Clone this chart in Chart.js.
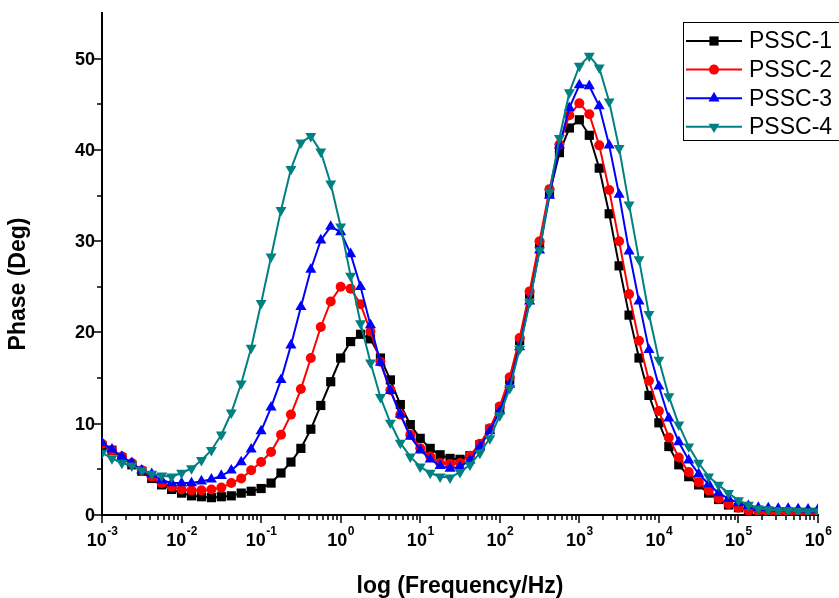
<!DOCTYPE html>
<html>
<head>
<meta charset="utf-8">
<script src="https://cdn.jsdelivr.net/npm/chart.js@4.4.1/dist/chart.umd.min.js"></script>
<style>
  html, body { margin: 0; padding: 0; background: #fff; }
  #wrap { width: 839px; height: 598px; }
</style>
</head>
<body>
<div id="wrap"><canvas id="phaseChart" width="839" height="598"></canvas></div>
<script>
// Frequency grid (Hz), 8 points per decade
const frequencies = [
  1e-3, 1.334e-3, 1.778e-3, 2.371e-3, 3.162e-3, 4.217e-3, 5.623e-3, 7.499e-3,
  1e-2, 1.334e-2, 1.778e-2, 2.371e-2, 3.162e-2, 4.217e-2, 5.623e-2, 7.499e-2,
  1e-1, 1.334e-1, 1.778e-1, 2.371e-1, 3.162e-1, 4.217e-1, 5.623e-1, 7.499e-1,
  1e0, 1.334e0, 1.778e0, 2.371e0, 3.162e0, 4.217e0, 5.623e0, 7.499e0,
  1e1, 1.334e1, 1.778e1, 2.371e1, 3.162e1, 4.217e1, 5.623e1, 7.499e1,
  1e2, 1.334e2, 1.778e2, 2.371e2, 3.162e2, 4.217e2, 5.623e2, 7.499e2,
  1e3, 1.334e3, 1.778e3, 2.371e3, 3.162e3, 4.217e3, 5.623e3, 7.499e3,
  1e4, 1.334e4, 1.778e4, 2.371e4, 3.162e4, 4.217e4, 5.623e4, 7.499e4,
  1e5, 1.334e5, 1.778e5, 2.371e5, 3.162e5, 4.217e5, 5.623e5, 7.499e5,
  1e6
];

// Phase angle (deg) for each sample
const pssc1 = [
  7.6, 7.1, 6.3, 5.5, 4.8, 4.0, 3.3, 2.8,
  2.4, 2.1, 2.0, 1.9, 2.0, 2.1, 2.4, 2.6,
  2.9, 3.5, 4.6, 5.8, 7.3, 9.4, 12.0, 14.6,
  17.2, 19.0, 19.8, 19.3, 17.2, 14.8, 12.1, 9.9,
  8.4, 7.3, 6.6, 6.2, 6.1, 6.5, 7.7, 9.4,
  11.7, 14.8, 19.1, 24.2, 29.7, 35.2, 39.7, 42.4,
  43.3, 41.6, 38.0, 33.0, 27.3, 21.9, 17.2, 13.1,
  10.1, 7.5, 5.5, 4.2, 3.3, 2.4, 1.7, 1.1,
  0.8, 0.6, 0.5, 0.4, 0.35, 0.3, 0.3, 0.3,
  0.3
];
const pssc2 = [
  7.8, 7.1, 6.4, 5.7, 4.9, 4.2, 3.5, 3.1,
  2.8, 2.7, 2.7, 2.8, 3.0, 3.5, 4.0, 4.9,
  5.8, 6.9, 8.8, 11.0, 13.8, 17.2, 20.6, 23.4,
  25.0, 24.8, 23.1, 20.1, 16.8, 13.7, 11.0, 8.8,
  7.3, 6.4, 5.7, 5.6, 5.7, 6.5, 7.8, 9.5,
  11.9, 15.1, 19.4, 24.5, 30.0, 35.7, 40.6, 43.8,
  45.1, 43.9, 40.5, 35.6, 30.0, 24.2, 19.1, 14.7,
  11.4, 8.5, 6.3, 4.7, 3.6, 2.7, 1.8, 1.2,
  0.8, 0.5, 0.4, 0.3, 0.3, 0.3, 0.3, 0.3,
  0.3
];
const pssc3 = [
  7.9, 7.2, 6.4, 5.7, 4.9, 4.5, 3.8, 3.5,
  3.5, 3.5, 3.7, 3.9, 4.3, 4.9, 5.8, 7.2,
  9.2, 11.8, 14.8, 18.6, 22.8, 26.9, 30.1, 31.6,
  31.0, 28.6, 25.0, 20.8, 16.7, 13.6, 11.0, 8.6,
  7.1, 6.1, 5.4, 5.1, 5.3, 6.0, 7.5, 9.2,
  11.4, 14.3, 18.4, 23.4, 29.0, 35.0, 40.5, 44.6,
  47.1, 47.0, 44.8, 40.5, 35.1, 28.9, 23.4, 18.1,
  14.1, 10.6, 8.0, 6.0, 4.5, 3.4, 2.4, 1.8,
  1.3, 1.0, 0.8, 0.75, 0.7, 0.7, 0.65, 0.6,
  0.6
];
const pssc4 = [
  6.8, 6.2, 5.7, 5.4, 4.9, 4.5, 4.3, 4.2,
  4.6, 5.1, 6.0, 7.1, 8.8, 11.2, 14.4, 18.3,
  23.2, 28.3, 33.4, 37.9, 40.8, 41.5, 39.8, 36.3,
  31.6, 26.2, 21.0, 16.7, 12.9, 10.1, 7.9, 6.4,
  5.3, 4.6, 4.2, 4.1, 4.7, 5.5, 6.8, 8.4,
  10.9, 13.9, 18.2, 23.3, 29.0, 35.4, 41.3, 46.3,
  49.2, 50.3, 49.0, 45.3, 40.2, 34.0, 28.0, 22.0,
  17.0, 13.0, 9.9, 7.5, 5.7, 4.2, 3.3, 2.4,
  1.6, 1.1, 0.7, 0.6, 0.5, 0.5, 0.45, 0.4,
  0.4
];

const seriesNames = ['PSSC-1', 'PSSC-2', 'PSSC-3', 'PSSC-4'];
const xTickExponents = [-3, -2, -1, 0, 1, 2, 3, 4, 5, 6];
const yTickValues = [0, 10, 20, 30, 40, 50];

const FONT = '"Liberation Sans", Arial, Helvetica, sans-serif';

function toPoints(values) {
  return frequencies.map((f, i) => ({ x: f, y: values[i] }));
}

function makeSet(label, values, color, style, radius, rotation, order) {
  return {
    label,
    data: toPoints(values),
    borderColor: color,
    backgroundColor: color,
    pointBackgroundColor: color,
    pointBorderColor: color,
    pointBorderWidth: 0,
    borderWidth: 2,
    pointStyle: style,
    pointRadius: radius,
    pointRotation: rotation,
    tension: 0,
    order
  };
}

const datasets = [
  makeSet(seriesNames[0], pssc1, '#000000', 'rect', 6.5, 0, 4),
  makeSet(seriesNames[1], pssc2, '#ff0000', 'circle', 5, 0, 3),
  makeSet(seriesNames[2], pssc3, '#0000ff', 'triangle', 6.4, 0, 2),
  makeSet(seriesNames[3], pssc4, '#008080', 'triangle', 6.3, 180, 1)
];

// Ticks, tick labels, axis titles and the boxed legend
const axisDecor = {
  id: 'axisDecor',
  afterDraw(chart) {
    const { ctx, chartArea: a, scales: { x, y } } = chart;
    ctx.save();
    ctx.strokeStyle = '#000';
    ctx.fillStyle = '#000';
    ctx.lineWidth = 1.5;

    // x ticks: decades plus 2..9 minors
    ctx.beginPath();
    const lastExp = xTickExponents[xTickExponents.length - 1];
    xTickExponents.forEach(e => {
      for (let m = 1; m <= 9; m++) {
        if (e === lastExp && m > 1) break;
        const px = Math.round(x.getPixelForValue(m * Math.pow(10, e)));
        const len = m === 1 ? 8 : 5;
        ctx.moveTo(px, a.bottom);
        ctx.lineTo(px, a.bottom + len);
      }
    });
    // y ticks: every 10 major, every 5 minor
    for (let v = 0; v <= 50; v += 5) {
      const py = Math.round(y.getPixelForValue(v));
      const len = v % 10 === 0 ? 8 : 5;
      ctx.moveTo(a.left, py);
      ctx.lineTo(a.left - len, py);
    }
    ctx.stroke();

    // y tick labels
    ctx.font = 'bold 18px ' + FONT;
    ctx.textAlign = 'right';
    ctx.textBaseline = 'middle';
    yTickValues.forEach(v => {
      ctx.fillText(String(v), a.left - 7, y.getPixelForValue(v) + 1);
    });

    // x tick labels with superscript exponents
    ctx.textAlign = 'left';
    xTickExponents.forEach(e => {
      const px = x.getPixelForValue(Math.pow(10, e));
      ctx.font = 'bold 18px ' + FONT;
      const wBase = ctx.measureText('10').width;
      ctx.font = 'bold 12px ' + FONT;
      const expText = String(e);
      const wExp = ctx.measureText(expText).width;
      const left = px - (wBase + wExp) / 2;
      ctx.font = 'bold 18px ' + FONT;
      ctx.fillText('10', left, 541);
      ctx.font = 'bold 12px ' + FONT;
      ctx.fillText(expText, left + wBase + 0.5, 532);
    });

    // axis titles
    ctx.font = 'bold 23px ' + FONT;
    ctx.textAlign = 'center';
    ctx.fillText('log (Frequency/Hz)', (a.left + a.right) / 2, 587);
    ctx.save();
    ctx.translate(19, 284);
    ctx.rotate(-Math.PI / 2);
    ctx.fillText('Phase (Deg)', 0, 0);
    ctx.restore();

    // legend box
    ctx.lineWidth = 1;
    ctx.strokeRect(683.5, 22.5, 200, 118);
    ctx.font = '23px ' + FONT;
    ctx.textAlign = 'left';
    datasets.forEach((ds, i) => {
      const ly = 41 + i * 28.6;
      ctx.strokeStyle = ds.borderColor;
      ctx.lineWidth = 2;
      ctx.beginPath();
      ctx.moveTo(686, ly);
      ctx.lineTo(742, ly);
      ctx.stroke();
      ctx.fillStyle = ds.backgroundColor;
      Chart.helpers.drawPoint(ctx, {
        pointStyle: ds.pointStyle,
        radius: ds.pointRadius,
        rotation: ds.pointRotation,
        borderWidth: 0
      }, 714, ly);
      ctx.fillStyle = '#000';
      ctx.fillText(ds.label, 749, ly + 1);
    });
    ctx.restore();
  }
};

const chart = new Chart(document.getElementById('phaseChart'), {
  type: 'line',
  data: { datasets },
  options: {
    responsive: false,
    animation: false,
    devicePixelRatio: 1,
    layout: { padding: { left: 102, top: 13, right: 21, bottom: 83 } },
    plugins: {
      legend: { display: false },
      tooltip: { enabled: false }
    },
    scales: {
      x: {
        type: 'logarithmic',
        min: 1e-3,
        max: 1e6,
        grid: { display: false, drawTicks: false },
        ticks: { display: false },
        border: { display: true, color: '#000', width: 2 }
      },
      y: {
        type: 'linear',
        min: 0,
        max: 55,
        grid: { display: false, drawTicks: false },
        ticks: { display: false },
        border: { display: true, color: '#000', width: 2 }
      }
    }
  },
  plugins: [axisDecor]
});
</script>
</body>
</html>
